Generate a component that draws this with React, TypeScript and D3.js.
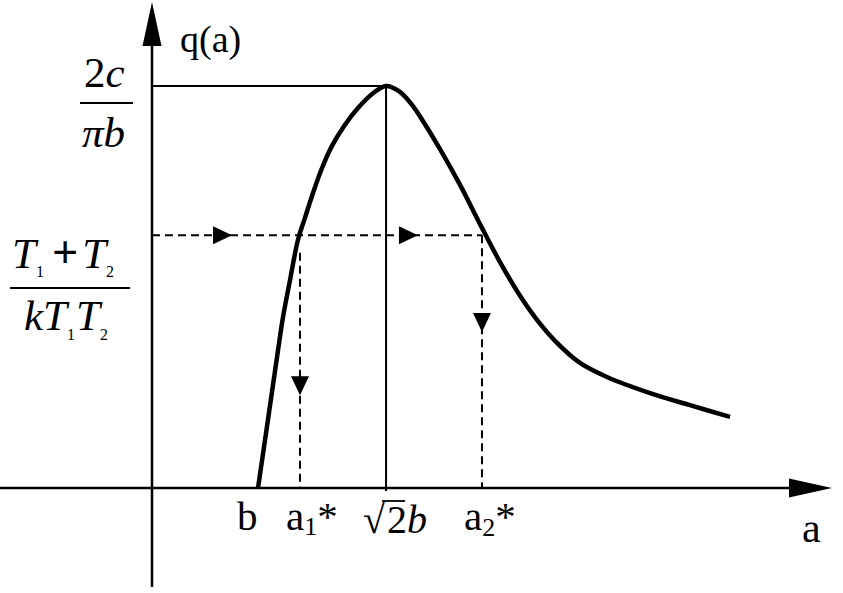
import * as d3 from 'd3';

// Describing-function style curve q(a); units: a in multiples of b, q normalised to the peak 2c/(πb)
const curveA = [1.0, 1.066, 1.132, 1.189, 1.236, 1.302, 1.377, 1.443, 1.519, 1.604, 1.698, 1.811, 1.943, 2.085, 2.208,
    2.33, 2.453, 2.575, 2.717, 2.906, 3.113, 3.283, 3.472, 3.632, 3.802, 4.038, 4.292, 4.698, 5.075, 5.453];
const curveQ = [0.0, 0.119, 0.239, 0.343, 0.425, 0.517, 0.617, 0.672, 0.734, 0.796, 0.851, 0.900, 0.945, 0.982, 1.0,
    0.987, 0.953, 0.905, 0.843, 0.754, 0.647, 0.562, 0.478, 0.418, 0.366, 0.311, 0.276, 0.236, 0.206, 0.177];

const peakA = 2.208;    // sqrt(2) b
const peakQ = 1;        // 2c / (pi b)
const levelQ = 0.629;   // (T1 + T2) / (k T1 T2)
const bA = 1;
const a1A = 1.396;
const a2A = 3.113;
const a1StartQ = 0.585;
const rightArrowA = [0.755, 2.509];
const downArrowQ = [0.231, 0.388];

const aMin = -1.434;
const aMax = 6.415;
const qMin = -0.246;
const qMax = 1.209;

const W = 843;
const H = 593;

export default function App() {
    const x = d3.scaleLinear().domain([0, 1]).range([152, 258]);
    const y = d3.scaleLinear().domain([0, 1]).range([488, 86]);

    const pts = curveA.map((a, i) => [a, curveQ[i]] as [number, number]);
    const line = d3.line<[number, number]>()
        .x(d => x(d[0]))
        .y(d => y(d[1]))
        .curve(d3.curveCatmullRom.alpha(0.5));

    const serif = '"Liberation Serif", "Times New Roman", serif';
    const dash = '8,5';

    const rightTri = (tx: number, ty: number) =>
        `M${tx},${ty} L${tx - 19},${ty - 9} L${tx - 19},${ty + 9} Z`;
    const downTri = (tx: number, ty: number) =>
        `M${tx},${ty} L${tx - 9},${ty - 19} L${tx + 9},${ty - 19} Z`;

    return (
        <svg width={W} height={H} style={{ position: 'absolute', left: 0, top: 0, background: '#fff' }}>
            {/* axes */}
            <line x1={x(aMin)} x2={x(aMax) - 30} y1={y(0)} y2={y(0)} stroke="#000" strokeWidth={2.5} />
            <path d={`M${x(aMax)},${y(0)} L${x(aMax) - 43},${y(0) - 9.5} L${x(aMax) - 43},${y(0) + 9.5} Z`} fill="#000" />
            <line x1={x(0)} x2={x(0)} y1={y(qMin)} y2={y(qMax) + 30} stroke="#000" strokeWidth={2.5} />
            <path d={`M${x(0)},${y(qMax)} L${x(0) - 9.5},${y(qMax) + 44} L${x(0) + 9.5},${y(qMax) + 44} Z`} fill="#000" />

            {/* peak guides */}
            <line x1={x(0)} x2={x(peakA)} y1={y(peakQ)} y2={y(peakQ)} stroke="#000" strokeWidth={2} />
            <line x1={x(peakA)} x2={x(peakA)} y1={y(peakQ)} y2={y(0) + 3} stroke="#000" strokeWidth={2} />

            {/* dashed construction lines */}
            <line x1={x(0)} x2={x(a2A)} y1={y(levelQ)} y2={y(levelQ)} stroke="#000" strokeWidth={2} strokeDasharray={dash} />
            <line x1={x(a1A)} x2={x(a1A)} y1={y(a1StartQ)} y2={y(0)} stroke="#000" strokeWidth={2} strokeDasharray={dash} />
            <line x1={x(a2A)} x2={x(a2A)} y1={y(levelQ)} y2={y(0)} stroke="#000" strokeWidth={2} strokeDasharray={dash} />
            {rightArrowA.map((a, i) => <path key={'r' + i} d={rightTri(x(a), y(levelQ))} fill="#000" />)}
            <path d={downTri(x(a1A), y(downArrowQ[0]))} fill="#000" />
            <path d={downTri(x(a2A), y(downArrowQ[1]))} fill="#000" />

            {/* curve */}
            <path d={line(pts) ?? ''} fill="none" stroke="#000" strokeWidth={4.5} strokeLinejoin="round" />

            {/* axis titles */}
            <text x={180} y={52} fontFamily={serif} fontSize={38}>q(a)</text>
            <text x={802} y={542} fontFamily={serif} fontSize={42}>a</text>

            {/* x labels */}
            <text x={x(bA) - 21} y={530} fontFamily={serif} fontSize={41}>b</text>
            <text x={x(a1A) - 14} y={530} fontFamily={serif} fontSize={41}>
                a<tspan fontSize={26} dy={5}>1</tspan><tspan dy={-5}>*</tspan>
            </text>
            <text x={x(peakA) - 23} y={533} fontFamily={serif} fontSize={40}>√</text>
            <line x1={x(peakA) - 4} x2={x(peakA) + 19} y1={501} y2={501} stroke="#000" strokeWidth={1.8} />
            <text x={x(peakA) + 1} y={533} fontFamily={serif} fontSize={40}>
                2<tspan fontStyle="italic">b</tspan>
            </text>
            <text x={x(a2A) - 18} y={530} fontFamily={serif} fontSize={41}>
                a<tspan fontSize={26} dy={6}>2</tspan><tspan dy={-6}>*</tspan>
            </text>

            {/* y labels */}
            <text x={84} y={87} fontFamily={serif} fontSize={43}>
                2<tspan fontStyle="italic">c</tspan>
            </text>
            <line x1={80} x2={133} y1={103} y2={103} stroke="#000" strokeWidth={2} />
            <text x={82} y={147} fontFamily={serif} fontSize={43} fontStyle="italic">πb</text>

            <text x={12} y={268} fontFamily={serif} fontSize={43} fontStyle="italic">
                T<tspan fontSize={16} fontStyle="normal" dy={9}>1</tspan>
                <tspan fontStyle="normal" fontWeight="bold" fontSize={46} dx={8} dy={-9}>+</tspan>
                <tspan dx={4}>T</tspan><tspan fontSize={16} fontStyle="normal" dy={9}>2</tspan>
            </text>
            <line x1={10} x2={130} y1={288} y2={288} stroke="#000" strokeWidth={2} />
            <text x={24} y={330} fontFamily={serif} fontSize={43} fontStyle="italic">
                kT<tspan fontSize={16} fontStyle="normal" dy={10}>1</tspan>
                <tspan dx={1} dy={-10}>T</tspan><tspan fontSize={16} fontStyle="normal" dy={10}>2</tspan>
            </text>
        </svg>
    );
}
